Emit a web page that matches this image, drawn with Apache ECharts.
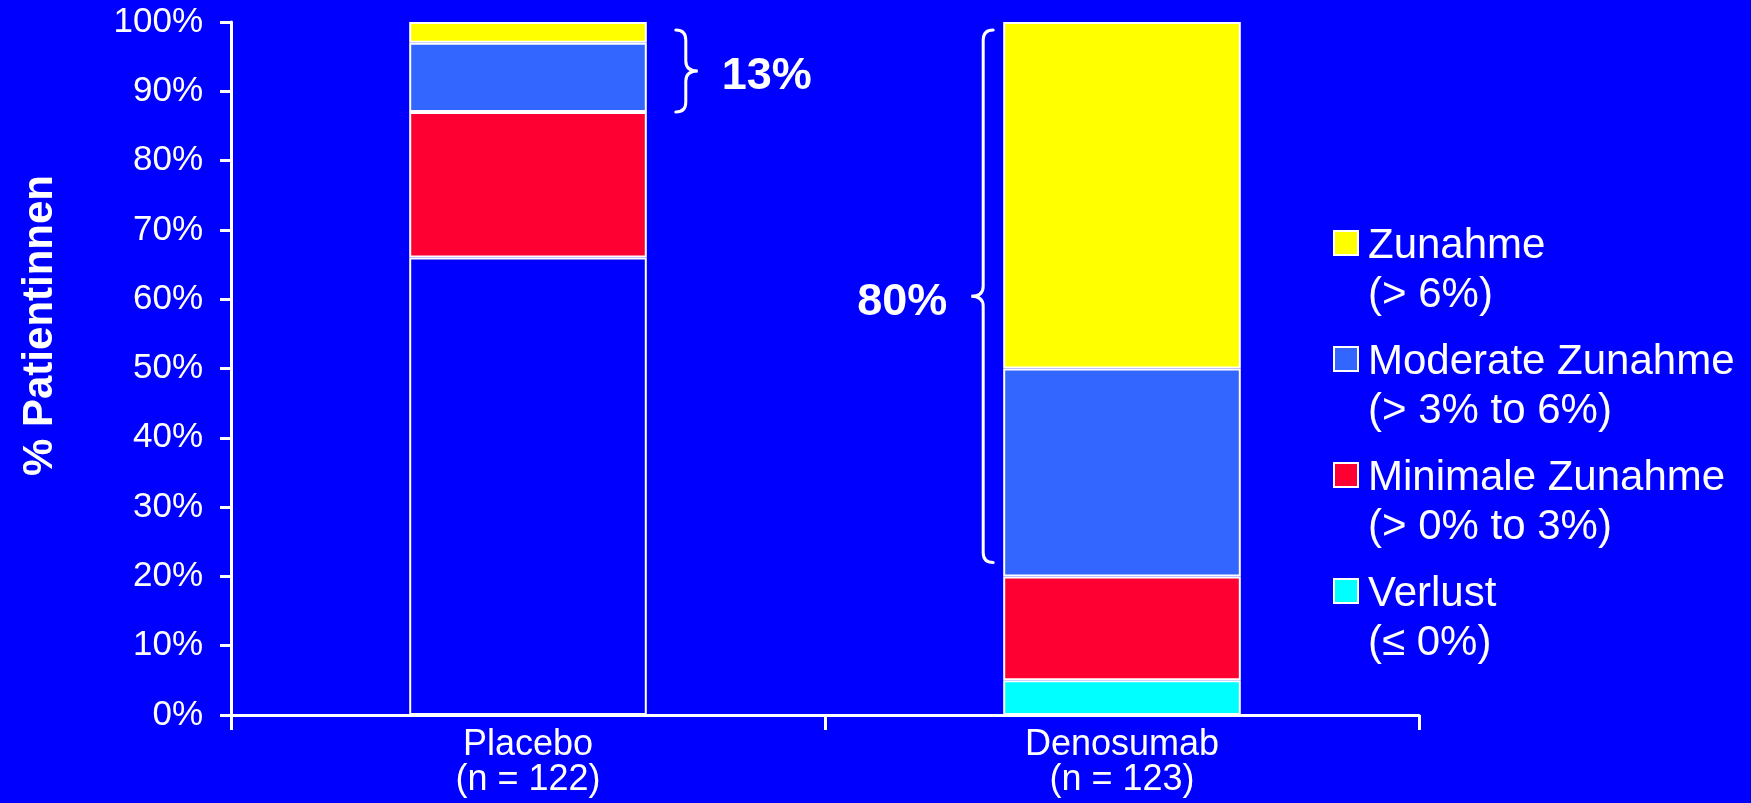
<!DOCTYPE html>
<html>
<head>
<meta charset="utf-8">
<title>Veränderung der Knochendichte</title>
<script src="https://cdn.jsdelivr.net/npm/echarts@6/dist/echarts.min.js"></script>
<style>
  html, body { margin: 0; padding: 0; background: #0000ff; }
  #chart { width: 1751px; height: 803px; }
</style>
</head>
<body>
<div id="chart"></div>
<script>
// Treatment groups and group sizes
const categories = ['Placebo', 'Denosumab'];
const groupSizes = [122, 123];

// Share of patients (%) per response class, stacked bottom to top
const seriesNames = ['Verlust', 'Minimale Zunahme', 'Moderate Zunahme', 'Zunahme'];
const rangeLabels = ['(≤ 0%)', '(> 0% to 3%)', '(> 3% to 6%)', '(> 6%)'];
const verlust = [66, 5];
const minimaleZunahme = [21, 15];
const moderateZunahme = [10, 30];
const zunahme = [3, 50];

const FONT = "'Liberation Sans', Arial, Helvetica, sans-serif";
const BG = '#0000ff';
const colors = ['#00ffff', '#ff0033', '#3366ff', '#ffff00'];
const valueSets = [verlust, minimaleZunahme, moderateZunahme, zunahme];

// Bracket over the two "increase" classes (moderate + strong) of each group
const braceData = categories.map((c, i) => {
  const low = verlust[i] + minimaleZunahme[i];
  const high = low + moderateZunahme[i] + zunahme[i];
  return [i, low, high, moderateZunahme[i] + zunahme[i]];
});
// dir: +1 bracket right of the bar, -1 left of it
const braceLook = [
  { dir: 1, offset: 39, insetTop: 8, insetBottom: 0 },
  { dir: -1, offset: 20, insetTop: 8, insetBottom: 14 }
];

function renderBrace(params, api) {
  const i = api.value(0);
  const look = braceLook[i];
  const top = api.coord([i, api.value(2)]);
  const bottom = api.coord([i, api.value(1)]);
  const halfBar = api.size([1, 0])[0] * 0.4 / 2;
  const s = look.dir;
  const v = top[0] + s * (halfBar + look.offset);
  const y0 = top[1] + look.insetTop;
  const y1 = bottom[1] - look.insetBottom;
  const ym = (y0 + y1) / 2;
  const r = 10, p = 12;
  const d = 'M' + (v - s * r) + ',' + y0 +
    ' Q' + v + ',' + y0 + ' ' + v + ',' + (y0 + r) +
    ' L' + v + ',' + (ym - r) +
    ' Q' + v + ',' + ym + ' ' + (v + s * p) + ',' + ym +
    ' Q' + v + ',' + ym + ' ' + v + ',' + (ym + r) +
    ' L' + v + ',' + (y1 - r) +
    ' Q' + v + ',' + y1 + ' ' + (v - s * r) + ',' + y1;
  return {
    type: 'group',
    children: [
      {
        type: 'path',
        shape: { pathData: d },
        style: { stroke: '#ffffff', lineWidth: 3, fill: 'none', lineCap: 'round' }
      },
      {
        type: 'text',
        x: v + s * (p + 24),
        y: ym + 6,
        style: {
          text: api.value(3) + '%',
          fill: '#ffffff',
          font: 'bold 45px ' + FONT,
          align: s > 0 ? 'left' : 'right',
          verticalAlign: 'middle'
        }
      }
    ]
  };
}

const barSeries = seriesNames.map((name, k) => ({
  name: name,
  type: 'bar',
  stack: 'total',
  barWidth: '40%',
  itemStyle: { color: colors[k], borderColor: '#ffffff', borderWidth: 2 },
  // the placebo group's bottom block is left in the background colour
  data: valueSets[k].map((v, i) => (k === 0 && i === 0) ? { value: v, itemStyle: { color: BG } } : v)
}));

const chart = echarts.init(document.getElementById('chart'), null, { renderer: 'canvas' });
chart.setOption({
  backgroundColor: BG,
  animation: false,
  textStyle: { fontFamily: FONT, color: '#ffffff' },
  grid: { left: 231, right: 332, top: 22, bottom: 88, containLabel: false },
  legend: {
    orient: 'vertical',
    left: 1332,
    top: 221,
    padding: 0,
    itemGap: 16,
    itemWidth: 30,
    itemHeight: 98,
    icon: 'path://M0,0M1,9h24v24h-24zM30,98',
    itemStyle: { borderColor: '#ffffff', borderWidth: 2 },
    data: seriesNames.slice().reverse(),
    formatter: name => name + '\n' + rangeLabels[seriesNames.indexOf(name)],
    textStyle: { color: '#ffffff', fontSize: 42, lineHeight: 49, fontFamily: FONT },
    selectedMode: false
  },
  xAxis: {
    type: 'category',
    data: categories,
    axisLine: { lineStyle: { color: '#ffffff', width: 3 } },
    axisTick: { show: true, length: 15, lineStyle: { color: '#ffffff', width: 3 } },
    axisLabel: {
      color: '#ffffff',
      fontSize: 36,
      lineHeight: 35,
      margin: 13,
      fontFamily: FONT,
      formatter: (value, idx) => value + '\n(n = ' + groupSizes[idx] + ')'
    }
  },
  yAxis: {
    type: 'value',
    min: 0,
    max: 100,
    interval: 10,
    name: '% Patientinnen',
    nameLocation: 'middle',
    nameRotate: 90,
    nameGap: 170,
    nameTextStyle: { color: '#ffffff', fontSize: 42, fontWeight: 'bold', fontFamily: FONT, padding: [0, 0, 0, 86] },
    axisLine: { show: true, lineStyle: { color: '#ffffff', width: 3 } },
    axisTick: { show: true, length: 11, lineStyle: { color: '#ffffff', width: 3 } },
    splitLine: { show: false },
    axisLabel: { color: '#ffffff', fontSize: 35, margin: 28, padding: [6, 0, 0, 0], fontFamily: FONT, formatter: '{value}%' }
  },
  series: barSeries.concat([{
    type: 'custom',
    name: 'braces',
    renderItem: renderBrace,
    encode: { x: 0, y: [1, 2] },
    data: braceData,
    z: 10,
    silent: true
  }])
});
</script>
</body>
</html>
